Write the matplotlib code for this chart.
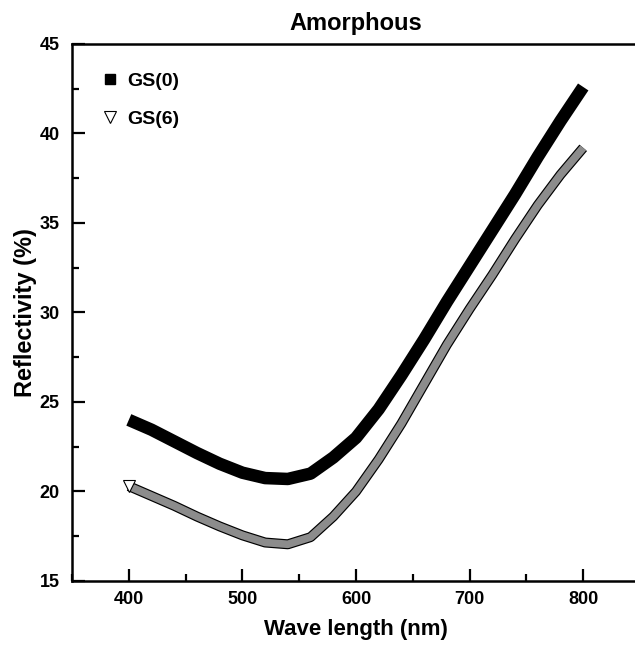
import numpy as np
import matplotlib
matplotlib.use('Agg')
import matplotlib.pyplot as plt
import matplotlib.patheffects as pe
from matplotlib.ticker import MultipleLocator

# wavelength (nm) and reflectivity (%)
wavelength = [400, 420, 440, 460, 480, 500, 520, 540, 560, 580, 600,
              620, 640, 660, 680, 700, 720, 740, 760, 780, 800]
gs0 = [24.0, 23.45, 22.8, 22.15, 21.55, 21.05, 20.75, 20.7, 21.0, 21.9, 23.0,
       24.6, 26.5, 28.5, 30.6, 32.6, 34.6, 36.6, 38.7, 40.7, 42.6]
gs6 = [20.3, 19.75, 19.2, 18.6, 18.05, 17.55, 17.15, 17.05, 17.45, 18.6, 20.0,
       21.8, 23.8, 26.0, 28.2, 30.2, 32.1, 34.1, 36.0, 37.7, 39.2]

narrow = ['Liberation Sans Narrow', 'Liberation Sans', 'DejaVu Sans']
wide = ['Liberation Sans', 'DejaVu Sans']
plt.rcParams['font.family'] = narrow
plt.rcParams['font.weight'] = 'bold'

fig = plt.figure(figsize=(6.35, 6.48), dpi=100)
ax = fig.add_axes([0.1134, 0.1034, 0.8945, 0.8287])

# GS(0): dense filled squares -> thick black band
ax.plot(wavelength, gs0, color='black', lw=9, solid_capstyle='butt',
        solid_joinstyle='round', zorder=3)
# GS(6): dense open triangles -> grey hatched band
ax.plot(wavelength, gs6, color='0.55', lw=5.5, solid_capstyle='butt', solid_joinstyle='round',
        zorder=2, path_effects=[pe.Stroke(linewidth=7.2, foreground='black'), pe.Normal()])
ax.plot(wavelength[:1], gs6[:1], ls='none', marker='v', ms=9, mfc='white', mec='black',
        mew=0.8, zorder=4)

# legend handles
ax.plot([], [], ls='none', marker='s', ms=7, color='black', label='GS(0)')
ax.plot([], [], ls='none', marker='v', ms=8, mfc='white', mec='black', mew=0.8, label='GS(6)')
ax.legend(loc='upper left', bbox_to_anchor=(0.025, 0.98), frameon=False,
          handlelength=0.6, handletextpad=0.6, labelspacing=1.05,
          prop={'family': narrow, 'weight': 'bold', 'size': 14})

ax.set_xlim(350, 850)
ax.set_ylim(15, 45)
ax.xaxis.set_major_locator(MultipleLocator(100))
ax.xaxis.set_minor_locator(MultipleLocator(50))
ax.yaxis.set_major_locator(MultipleLocator(5))
ax.yaxis.set_minor_locator(MultipleLocator(2.5))
ax.tick_params(which='both', direction='in', width=1.6, top=False, right=False)
ax.tick_params(which='major', length=9, labelsize=13)
ax.tick_params(axis='x', which='major', pad=7)
ax.tick_params(axis='y', which='major', pad=9)
ax.tick_params(which='minor', length=5)
for lab in ax.get_xticklabels() + ax.get_yticklabels():
    lab.set_fontweight('bold')

for side in ['left', 'bottom', 'top']:
    ax.spines[side].set_linewidth(1.8)
ax.spines['right'].set_visible(False)

ax.set_title('Amorphous', fontsize=17, fontweight='bold', pad=10)
ax.set_xlabel('Wave length (nm)', fontsize=16, fontweight='bold', labelpad=8)
ax.set_ylabel('Reflectivity (%)', fontsize=17, fontweight='bold', family=wide, labelpad=2)

fig.savefig('out.png', dpi=100)
